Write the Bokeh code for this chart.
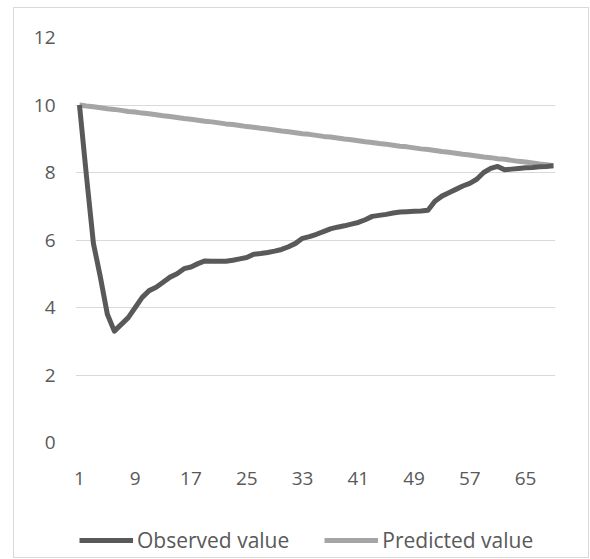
from bokeh.plotting import figure
from bokeh.layouts import column
from bokeh.models import FixedTicker, Legend, LegendItem
from bokeh.embed import file_html
from bokeh.resources import INLINE

x_values = list(range(1, 70))
observed = [10.0, 7.9, 5.9, 4.9, 3.8, 3.3, 3.5, 3.7, 4.0, 4.3,
            4.5, 4.6, 4.75, 4.9, 5.0, 5.15, 5.2, 5.3, 5.38, 5.37,
            5.37, 5.37, 5.4, 5.44, 5.48, 5.58, 5.6, 5.63, 5.67, 5.72,
            5.8, 5.9, 6.05, 6.1, 6.17, 6.25, 6.33, 6.38, 6.42, 6.47,
            6.52, 6.6, 6.7, 6.73, 6.76, 6.8, 6.83, 6.84, 6.85, 6.86,
            6.88, 7.15, 7.3, 7.4, 7.5, 7.6, 7.68, 7.8, 8.0, 8.12,
            8.18, 8.08, 8.1, 8.12, 8.14, 8.15, 8.17, 8.18, 8.2]
predicted = [10.00, 9.97, 9.95, 9.92, 9.89, 9.87, 9.84, 9.81, 9.79, 9.76,
             9.74, 9.71, 9.68, 9.66, 9.63, 9.60, 9.58, 9.55, 9.52, 9.50,
             9.47, 9.44, 9.42, 9.39, 9.36, 9.34, 9.31, 9.29, 9.26, 9.23,
             9.21, 9.18, 9.15, 9.13, 9.10, 9.07, 9.05, 9.02, 8.99, 8.97,
             8.94, 8.91, 8.89, 8.86, 8.84, 8.81, 8.78, 8.76, 8.73, 8.70,
             8.68, 8.65, 8.62, 8.60, 8.57, 8.54, 8.52, 8.49, 8.46, 8.44,
             8.41, 8.39, 8.36, 8.33, 8.31, 8.28, 8.25, 8.23, 8.20]
x_ticks = [1, 9, 17, 25, 33, 41, 49, 57, 65]
y_ticks = [0, 2, 4, 6, 8, 10, 12]
series_names = ["Observed value", "Predicted value"]

FONT = "Open Sans"
TXT = "#595959"
OBS_COLOR = "#595959"
PRED_COLOR = "#a5a5a5"

# ---- main chart ----
p = figure(width=574, height=494, output_backend="svg", toolbar_location=None,
           x_range=(0.43, 69.3), y_range=(0, 12),
           min_border_left=61, min_border_right=33, min_border_top=29, min_border_bottom=60)
p.outline_line_color = None
p.background_fill_color = "white"
p.border_fill_color = "white"

p.line(x_values, predicted, line_color=PRED_COLOR, line_width=5, line_join="round")
p.line(x_values, observed, line_color=OBS_COLOR, line_width=5, line_join="round")

p.xgrid.visible = False
p.ygrid.grid_line_color = "#d9d9d9"
p.ygrid.grid_line_width = 1
p.ygrid.ticker = FixedTicker(ticks=y_ticks)

p.xaxis.ticker = FixedTicker(ticks=x_ticks)
p.yaxis.ticker = FixedTicker(ticks=y_ticks)
for ax in (p.xaxis, p.yaxis):
    ax.axis_line_color = None
    ax.major_tick_line_color = None
    ax.minor_tick_line_color = None
    ax.major_tick_out = 0
    ax.major_tick_in = 0
    ax.major_label_text_font = FONT
    ax.major_label_text_font_size = "19px"
    ax.major_label_text_color = TXT
p.xaxis.major_label_standoff = 29
p.yaxis.major_label_standoff = 20

# ---- legend strip ----
lg = figure(width=574, height=55, output_backend="svg", toolbar_location=None,
            x_range=(-20, -19), y_range=(-20, -19), x_axis_type=None, y_axis_type=None,
            min_border=0)
lg.outline_line_color = None
lg.xgrid.visible = False
lg.ygrid.visible = False
lg_obs = lg.line(x_values, observed, line_color=OBS_COLOR, line_width=5)
lg_pred = lg.line(x_values, predicted, line_color=PRED_COLOR, line_width=5)

legend = Legend(items=[LegendItem(label=series_names[0], renderers=[lg_obs]),
                       LegendItem(label=series_names[1], renderers=[lg_pred])],
                orientation="horizontal", location=(4, 3),
                glyph_width=54, glyph_height=20, label_standoff=4, spacing=35,
                padding=0, margin=0, border_line_color=None, background_fill_alpha=0,
                label_text_font=FONT, label_text_font_size="21px", label_text_color=TXT)
lg.add_layout(legend, "center")

layout = column(p, lg, spacing=0)
layout.margin = (7, 0, 0, 13)
layout.styles = {"border": "1px solid #d9d9d9"}

open("out.html", "w").write(file_html(layout, INLINE))
